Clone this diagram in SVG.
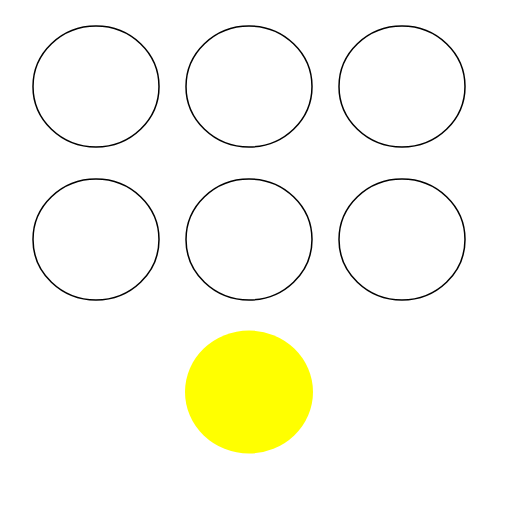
<svg xmlns="http://www.w3.org/2000/svg" width="512" height="512" viewBox="0 0 512 512">
<style>
.o{fill:#fff;stroke:#000;stroke-width:1.5}
.y{fill:#ff0;stroke:none}
</style>
<rect width="512" height="512" fill="#fff"/>
<g id="n1"><ellipse class="o" cx="96" cy="86.5" rx="63" ry="60.5"/></g>
<g id="n2"><ellipse class="o" cx="249" cy="86.5" rx="63" ry="60.5"/></g>
<g id="n3"><ellipse class="o" cx="402" cy="86.5" rx="63" ry="60.5"/></g>
<g id="n4"><ellipse class="o" cx="96" cy="239.5" rx="63" ry="60.5"/></g>
<g id="n5"><ellipse class="o" cx="249" cy="239.5" rx="63" ry="60.5"/></g>
<g id="n6"><ellipse class="o" cx="402" cy="239.5" rx="63" ry="60.5"/></g>
<g id="n7"><ellipse class="y" cx="249" cy="392" rx="64" ry="61.5"/></g>
<g id="connectors"></g>
</svg>
